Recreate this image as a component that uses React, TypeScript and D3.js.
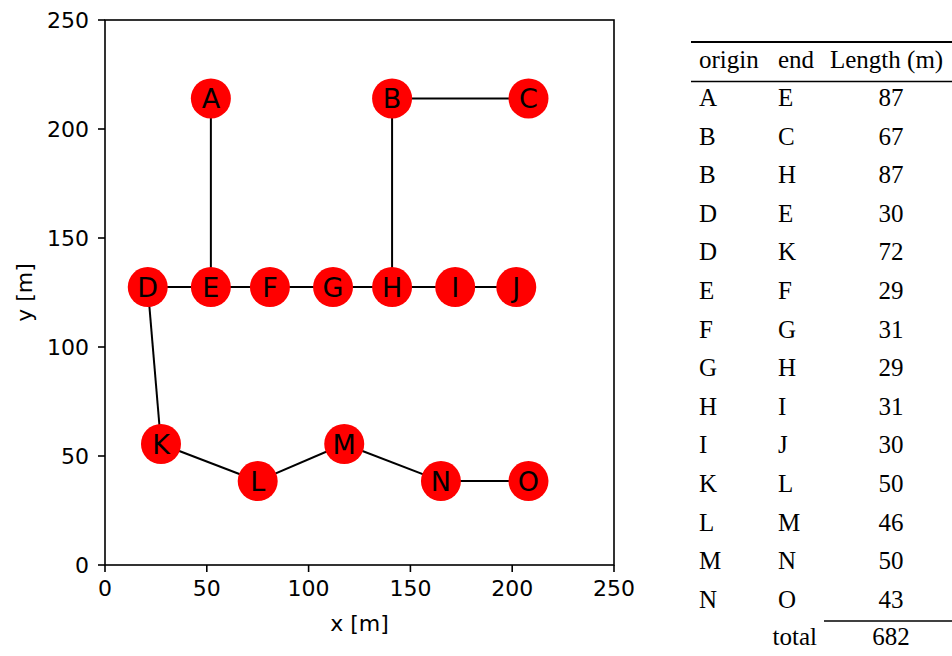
import React from "react";
import * as d3 from "d3";

const nodeNames = ["A", "B", "C", "D", "E", "F", "G", "H", "I", "J", "K", "L", "M", "N", "O"];
const nodeX = [52, 141, 208, 21, 52, 81, 112, 141, 172, 202, 27.5, 75, 117.5, 165, 208];
const nodeY = [214, 214, 214, 127.5, 127.5, 127.5, 127.5, 127.5, 127.5, 127.5, 55.5, 38.5, 55.5, 38.5, 38.5];

const edgeOrigin = ["A", "B", "B", "D", "D", "E", "F", "G", "H", "I", "K", "L", "M", "N"];
const edgeEnd = ["E", "C", "H", "E", "K", "F", "G", "H", "I", "J", "L", "M", "N", "O"];
const edgeLength = [87, 67, 87, 30, 72, 29, 31, 29, 31, 30, 50, 46, 50, 43];
const totalLength = 682;

const xTicks = [0, 50, 100, 150, 200, 250];
const yTicks = [0, 50, 100, 150, 200, 250];

export default function App() {
  const W = 952, H = 656;
  const left = 105, right = 614, top = 20, bottom = 565;
  const x = d3.scaleLinear().domain([0, 250]).range([left, right]);
  const y = d3.scaleLinear().domain([0, 250]).range([bottom, top]);
  const idx = (n: string) => nodeNames.indexOf(n);
  const tickFont = "DejaVu Sans, sans-serif";
  const serif = "Liberation Serif, Times New Roman, serif";
  const tfs = 25;

  const rowY0 = 98;
  const rowStep = 38.6;

  return (
    <svg width={W} height={H} style={{ position: "absolute", left: 0, top: 0 }}>
      <rect x={0} y={0} width={W} height={H} fill="white" />
      {edgeOrigin.map((o, i) => {
        const a = idx(o), b = idx(edgeEnd[i]);
        return (
          <line key={"e" + i} x1={x(nodeX[a])} y1={y(nodeY[a])} x2={x(nodeX[b])} y2={y(nodeY[b])}
            stroke="black" strokeWidth={2} />
        );
      })}
      {nodeNames.map((n, i) => (
        <g key={"n" + i}>
          <circle cx={x(nodeX[i])} cy={y(nodeY[i])} r={20} fill="#ff0000" />
          <text x={x(nodeX[i])} y={y(nodeY[i])} dy="0.36em" textAnchor="middle" fontFamily={tickFont} fontSize={27} fill="black">{n}</text>
        </g>
      ))}
      <rect x={left} y={top} width={right - left} height={bottom - top} fill="none" stroke="black" strokeWidth={1.6} />
      {xTicks.map((t) => (
        <g key={"xt" + t}>
          <line x1={x(t)} x2={x(t)} y1={bottom} y2={bottom + 7} stroke="black" strokeWidth={1.6} />
          <text x={x(t)} y={bottom + 31} textAnchor="middle" fontFamily={tickFont} fontSize={22}>{t}</text>
        </g>
      ))}
      {yTicks.map((t) => (
        <g key={"yt" + t}>
          <line x1={left - 7} x2={left} y1={y(t)} y2={y(t)} stroke="black" strokeWidth={1.6} />
          <text x={left - 16} y={y(t)} dy="0.36em" textAnchor="end" fontFamily={tickFont} fontSize={22}>{t}</text>
        </g>
      ))}
      <text x={(left + right) / 2} y={631} textAnchor="middle" fontFamily={tickFont} fontSize={22}>x [m]</text>
      <text transform={`translate(32,${(top + bottom) / 2}) rotate(-90)`} textAnchor="middle" fontFamily={tickFont} fontSize={22}>y [m]</text>

      <line x1={691} x2={952} y1={42} y2={42} stroke="black" strokeWidth={2} />
      <text x={699} y={68} fontFamily={serif} fontSize={tfs}>origin</text>
      <text x={778} y={68} fontFamily={serif} fontSize={tfs}>end</text>
      <text x={830} y={68} fontFamily={serif} fontSize={tfs}>Length (m)</text>
      <line x1={691} x2={952} y1={81.5} y2={81.5} stroke="black" strokeWidth={1.5} />
      {edgeOrigin.map((o, i) => (
        <g key={"r" + i}>
          <text x={699} y={rowY0 + i * rowStep + 8} fontFamily={serif} fontSize={tfs}>{o}</text>
          <text x={778} y={rowY0 + i * rowStep + 8} fontFamily={serif} fontSize={tfs}>{edgeEnd[i]}</text>
          <text x={891} y={rowY0 + i * rowStep + 8} textAnchor="middle" fontFamily={serif} fontSize={tfs}>{edgeLength[i]}</text>
        </g>
      ))}
      <line x1={824} x2={952} y1={621} y2={621} stroke="black" strokeWidth={1.5} />
      <text x={817} y={645} textAnchor="end" fontFamily={serif} fontSize={tfs}>total</text>
      <text x={891} y={645} textAnchor="middle" fontFamily={serif} fontSize={tfs}>{totalLength}</text>
    </svg>
  );
}
